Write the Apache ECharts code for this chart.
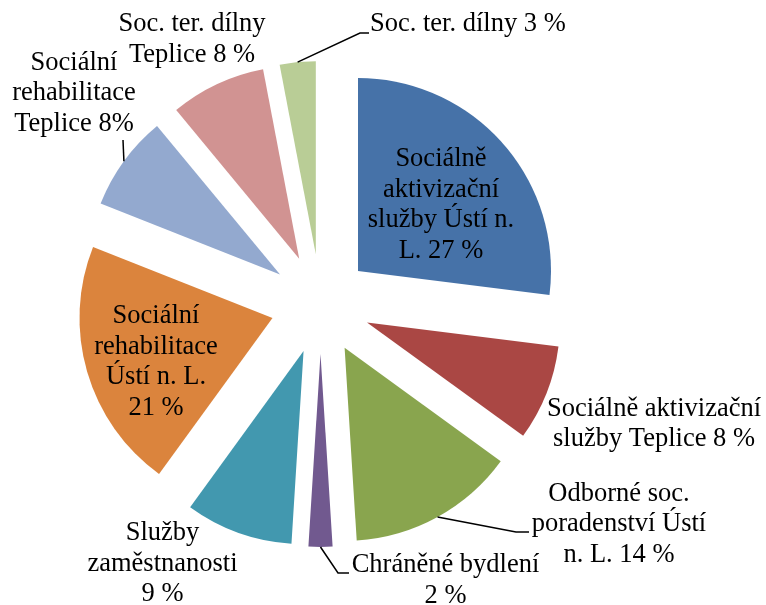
<!DOCTYPE html>
<html>
<head>
<meta charset="utf-8">
<script src="https://cdn.jsdelivr.net/npm/echarts@6/dist/echarts.min.js"></script>
<style>
html,body{margin:0;padding:0;background:#fff;}
#chart{width:766px;height:605px;}
</style>
</head>
<body>
<div id="chart"></div>
<script>
const categories = ['Sociálně aktivizační služby Ústí n. L.', 'Sociálně aktivizační služby Teplice', 'Odborné soc. poradenství Ústí n. L.', 'Chráněné bydlení', 'Služby zaměstnanosti', 'Sociální rehabilitace Ústí n. L.', 'Sociální rehabilitace Teplice', 'Soc. ter. dílny Teplice', 'Soc. ter. dílny'];
const values = [27, 8, 14, 2, 9, 21, 8, 8, 3];
const labelTexts = ['Sociálně\naktivizační\nslužby Ústí n.\nL. 27 %', 'Sociálně aktivizační\nslužby Teplice 8 %', 'Odborné soc.\nporadenství Ústí\nn. L. 14 %', 'Chráněné bydlení\n2 %', 'Služby\nzaměstnanosti\n9 %', 'Sociální\nrehabilitace\nÚstí n. L.\n21 %', 'Sociální\nrehabilitace\nTeplice 8%', 'Soc. ter. dílny\nTeplice 8 %', 'Soc. ter. dílny 3 %'];
const colors = ['#4672A8', '#AA4744', '#89A54E', '#71598F', '#4298AF', '#DB843D', '#93A9CF', '#D19392', '#B9CD96'];
const showLine = [false, false, true, true, false, false, true, false, true];

// layout (not data)
const CX = 320.5, CY = 304, R = 193, OFFSET = 50;
const labelPos = [[441,205,'center'],[654,424,'center'],[619,524.5,'center'],[445.5,580.5,'center'],[162.5,564,'center'],[156,362,'center'],[74,93.5,'center'],[192,39.5,'center'],[370,24.5,'left']];
const lineBends = {2: [[516,532],[529,532]], 3: [[338,573],[349,573]], 6: [[123,140]], 8: [[360,33],[369,33]]};

const total = values.reduce((a, b) => a + b, 0);
function edgePoint(i) {
  let cum = 0;
  for (let k = 0; k < i; k++) cum += values[k];
  const a = (cum + values[i] / 2) / total * Math.PI * 2;
  const d = R + OFFSET;
  return [CX + Math.sin(a) * d, CY - Math.cos(a) * d];
}

const textStyle = {
  color: '#000',
  fontFamily: 'Liberation Serif',
  fontSize: 26.5,
  lineHeight: 30.5,
  align: 'center'
};

const chart = echarts.init(document.getElementById('chart'), null, {renderer: 'canvas'});
chart.setOption({
  animation: false,
  backgroundColor: '#fff',
  series: [{
    // exploded sectors
    type: 'pie',
    center: [CX, CY],
    radius: [0, R],
    startAngle: 90,
    clockwise: true,
    selectedMode: 'multiple',
    selectedOffset: OFFSET,
    silent: true,
    emphasis: {disabled: true},
    itemStyle: {borderWidth: 0},
    label: {show: false},
    labelLine: {show: false},
    data: values.map((v, i) => ({
      name: categories[i],
      value: v,
      selected: true,
      itemStyle: {color: colors[i]}
    }))
  }, {
    // labels (transparent sectors, same layout)
    type: 'pie',
    center: [CX, CY],
    radius: [0, R],
    startAngle: 90,
    clockwise: true,
    selectedMode: false,
    silent: true,
    z: 3,
    avoidLabelOverlap: false,
    minShowLabelAngle: 0,
    emphasis: {disabled: true},
    itemStyle: {color: 'rgba(0,0,0,0)', borderWidth: 0},
    label: Object.assign({show: true, position: 'outside'}, textStyle),
    labelLine: {show: true, lineStyle: {color: '#000', width: 1.5}, smooth: false},
    labelLayout: function (params) {
      const i = params.dataIndex;
      const p = labelPos[i];
      const res = {x: p[0], y: p[1], align: p[2], verticalAlign: 'middle'};
      if (lineBends[i]) {
        res.labelLinePoints = [edgePoint(i)].concat(lineBends[i]);
      }
      return res;
    },
    data: values.map((v, i) => ({
      name: categories[i],
      value: v,
      label: {formatter: labelTexts[i], color: '#000'},
      labelLine: {show: showLine[i], lineStyle: {color: '#000'}}
    }))
  }]
});
</script>
</body>
</html>
